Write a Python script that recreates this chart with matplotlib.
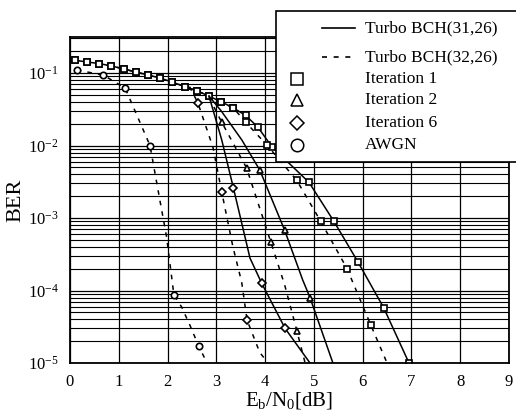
import matplotlib
matplotlib.use("Agg")
import matplotlib.pyplot as plt
from matplotlib.lines import Line2D
from matplotlib.patches import Rectangle


# ----------------------------
# Data (Eb/N0 in dB, BER)
# ----------------------------

# iteration 1, BCH(31,26) - solid
snr_it1_31 = [0.1, 0.35, 0.6, 0.85, 1.1, 1.35, 1.6, 1.85, 2.1, 2.35, 2.6,
              2.85, 3.1, 3.35, 3.6, 3.85, 4.14, 4.9, 5.41, 5.9, 6.43, 6.95]
ber_it1_31 = [0.15, 0.142, 0.135, 0.125, 0.114, 0.103, 0.094, 0.085, 0.075,
              0.065, 0.057, 0.048, 0.040, 0.033, 0.026, 0.018, 0.0096,
              3.1e-3, 9e-4, 2.5e-4, 5.8e-5, 1.0e-5]

# iteration 1, BCH(32,26) - dashed
snr_it1_32 = [0.1, 0.35, 0.6, 0.85, 1.1, 1.35, 1.6, 1.85, 2.1, 2.35, 2.6,
              2.85, 3.1, 3.35, 3.6, 4.04, 4.65, 5.14, 5.68, 6.17, 6.5]
ber_it1_32 = [0.15, 0.142, 0.135, 0.125, 0.114, 0.103, 0.094, 0.085, 0.075,
              0.065, 0.057, 0.048, 0.040, 0.033, 0.021, 0.0101, 3.3e-3,
              9e-4, 2e-4, 3.3e-5, 1.0e-5]

# iteration 2
snr_it2_31 = [2.85, 3.1, 3.52, 3.89, 4.4, 4.77, 4.92, 5.39]
ber_it2_31 = [0.048, 0.030, 0.012, 4.6e-3, 6.8e-4, 1.4e-4, 8e-5, 1.0e-5]

snr_it2_32 = [2.85, 3.11, 3.62, 4.12, 4.4, 4.65, 4.82]
ber_it2_32 = [0.046, 0.021, 4.9e-3, 4.6e-4, 1.2e-4, 2.8e-5, 1.0e-5]

# iteration 6
snr_it6_31 = [2.85, 3.11, 3.35, 3.69, 3.93, 4.41, 4.92]
ber_it6_31 = [0.048, 0.012, 2.6e-3, 2.8e-4, 1.26e-4, 3e-5, 1.0e-5]

snr_it6_32 = [2.45, 2.62, 2.93, 3.11, 3.34, 3.52, 3.63, 3.89, 4.06]
ber_it6_32 = [0.065, 0.039, 0.0095, 2.3e-3, 4e-4, 1.3e-4, 3.9e-5, 1.4e-5, 1.0e-5]

# AWGN reference
snr_awgn = [0.14, 0.68, 1.13, 1.64, 1.84, 1.98, 2.13, 2.29, 2.46, 2.64, 2.78]
ber_awgn = [0.11, 0.094, 0.062, 0.010, 1.8e-3, 5.5e-4, 8.7e-5, 5.9e-5,
            3.3e-5, 1.7e-5, 1.1e-5]

x_ticks = [0, 1, 2, 3, 4, 5, 6, 7, 8, 9]

legend_lines = ["Turbo BCH(31,26)", "Turbo BCH(32,26)"]
legend_marks = ["Iteration 1", "Iteration 2", "Iteration 6", "AWGN"]


# ----------------------------
# Style
# ----------------------------

plt.rcParams["font.family"] = ["Liberation Serif", "DejaVu Serif"]
plt.rcParams["mathtext.fontset"] = "custom"
plt.rcParams["mathtext.rm"] = "Liberation Serif"
plt.rcParams["mathtext.it"] = "Liberation Serif:italic"

DASH = (0, (3, 4))


def curve(ax, x, y, style, marker, every):
    ax.plot(
        x, y,
        color="black",
        linestyle=style,
        linewidth=1.1,
        marker=marker,
        markersize=4.6 if marker != "D" else 3.8,
        markerfacecolor="white",
        markeredgecolor="black",
        markeredgewidth=1.2,
        markevery=every
    )


# ----------------------------
# Plot
# ----------------------------

def plot_ber():

    fig = plt.figure(figsize=(5.16, 4.11), dpi=100)

    ax = fig.add_axes([70/516, 1 - 363/411, 439/516, 326/411])

    ax.set_yscale("log")
    ax.set_xlim(0, 9)
    ax.set_ylim(1e-5, 0.314)

    ax.set_xticks(x_ticks)
    ax.grid(True, which="major", color="black", linewidth=0.9)
    ax.grid(True, which="minor", axis="y", color="black", linewidth=0.8)
    ax.tick_params(which="both", length=0, labelsize=12, pad=8)
    for s in ax.spines.values():
        s.set_linewidth(1.3)

    all_idx = lambda x: list(range(len(x)))

    curve(ax, snr_it1_31, ber_it1_31, "-", "s", all_idx(snr_it1_31))
    curve(ax, snr_it1_32, ber_it1_32, DASH, "s", all_idx(snr_it1_32)[:-1])
    curve(ax, snr_it2_31, ber_it2_31, "-", "^", [3, 4, 6])
    curve(ax, snr_it2_32, ber_it2_32, DASH, "^", [1, 2, 3, 5])
    curve(ax, snr_it6_31, ber_it6_31, "-", "D", [2, 4, 5])
    curve(ax, snr_it6_32, ber_it6_32, DASH, "D", [1, 3, 6])
    curve(ax, snr_awgn, ber_awgn, DASH, "o", [0, 1, 2, 3, 6, 9])

    ax.set_ylabel("BER", fontsize=16, labelpad=2)
    ax.set_xlabel(r"E$_\mathrm{b}$/N$_\mathrm{0}$[dB]", fontsize=15, labelpad=0)

    # ----------------------------
    # Legend box (pixel coordinates)
    # ----------------------------

    lg = fig.add_axes([275/516, 1 - 162/411, 260/516, 152/411])
    lg.set_xlim(275, 535)
    lg.set_ylim(162, 10)
    lg.axis("off")
    lg.add_patch(Rectangle((275.5, 10.5), 300, 151, facecolor="white",
                           edgecolor="black", linewidth=1.2, clip_on=False))

    rows = [28, 57, 79, 100, 123, 145]

    lg.add_line(Line2D([322, 355], [rows[0], rows[0]], color="black",
                       linewidth=1.2))
    lg.add_line(Line2D([322, 355], [rows[1], rows[1]], color="black",
                       linewidth=1.2, linestyle=DASH))

    for m, r in zip(["s", "^", "D", "o"], rows[2:]):
        lg.plot([297], [r], marker=m, markersize=9 if m != "D" else 7,
                markerfacecolor="white", markeredgecolor="black",
                markeredgewidth=1.1, linestyle="none")

    for t, r in zip(legend_lines + legend_marks, rows):
        lg.text(365, r, t, fontsize=12.5, va="center", ha="left")

    fig.savefig("out.png", dpi=100)
    plt.close(fig)


def main():
    plot_ber()


if __name__ == "__main__":
    main()
